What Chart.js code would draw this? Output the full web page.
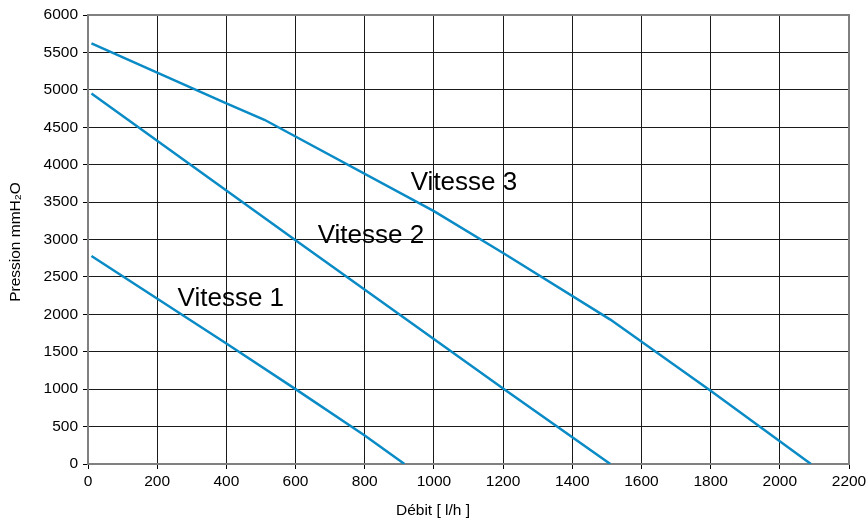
<!DOCTYPE html>
<html>
<head>
<meta charset="utf-8">
<script src="https://cdn.jsdelivr.net/npm/chart.js@4.4.0/dist/chart.umd.min.js"></script>
<style>
  html, body { margin: 0; padding: 0; background: #fff; }
  #wrap { width: 867px; height: 524px; }
</style>
</head>
<body>
<div id="wrap"><canvas id="chart"></canvas></div>
<script>
// curve points (débit l/h, pression mmH2O)
const vitesse1 = [[10, 2780], [400, 1610], [600, 1000], [800, 380], [915, 0]];
const vitesse2 = [[10, 4950], [600, 2990], [1200, 1010], [1510, 0]];
const vitesse3 = [[10, 5620], [200, 5230], [400, 4820], [510, 4600], [1000, 3380], [1200, 2820], [1510, 1930], [1800, 980], [2090, 0]];

const curveLabels = [
    { text: 'Vitesse 1', x: 259, y: 2203 },
    { text: 'Vitesse 2', x: 664, y: 3045 },
    { text: 'Vitesse 3', x: 933, y: 3754 }
];

const xTitle = 'Débit [ l/h ]';
const yTitle = 'Pression mmH₂O';

const lineColor = '#0a8bc6';
const fontFam = '"Liberation Sans", Arial, sans-serif';
const toPts = arr => arr.map(p => ({ x: p[0], y: p[1] }));

const mkSet = (label, arr) => ({
    label: label,
    data: toPts(arr),
    borderColor: lineColor,
    borderWidth: 2.5,
    pointRadius: 0,
    tension: 0,
    fill: false
});

// curve names + axis titles
const textPlugin = {
    id: 'texts',
    afterDatasetsDraw(chart) {
        const { ctx, scales } = chart;
        ctx.save();
        ctx.fillStyle = '#000';
        ctx.font = '26px ' + fontFam;
        ctx.textBaseline = 'middle';
        ctx.textAlign = 'left';
        curveLabels.forEach(l => {
            ctx.fillText(l.text, scales.x.getPixelForValue(l.x), scales.y.getPixelForValue(l.y));
        });

        ctx.font = '15.5px ' + fontFam;
        ctx.textAlign = 'center';
        ctx.fillText(xTitle, 433, 511);
        ctx.translate(16, 242);
        ctx.rotate(-Math.PI / 2);
        ctx.fillText(yTitle, 0, 0);
        ctx.restore();
    }
};

new Chart(document.getElementById('chart'), {
    type: 'line',
    data: {
        datasets: [
            mkSet('Vitesse 1', vitesse1),
            mkSet('Vitesse 2', vitesse2),
            mkSet('Vitesse 3', vitesse3)
        ]
    },
    options: {
        responsive: true,
        maintainAspectRatio: false,
        animation: false,
        layout: { padding: { top: 15, right: 18, left: 0, bottom: 0 } },
        plugins: {
            legend: { display: false },
            tooltip: { enabled: false }
        },
        scales: {
            x: {
                type: 'linear',
                min: 0,
                max: 2200,
                ticks: {
                    stepSize: 200,
                    color: '#000',
                    font: { size: 15.5, family: fontFam },
                    padding: 3,
                    maxRotation: 0,
                    callback: v => v
                },
                grid: { color: '#1a1a1a', lineWidth: 1, tickLength: 5, tickColor: '#000' },
                border: { color: '#808080', width: 2 },
                afterFit: s => { s.height = 60; s.paddingRight = 0; }
            },
            y: {
                min: 0,
                max: 6000,
                ticks: {
                    stepSize: 500,
                    color: '#000',
                    font: { size: 15.5, family: fontFam },
                    padding: 5,
                    callback: v => v
                },
                grid: { color: '#1a1a1a', lineWidth: 1, tickLength: 5, tickColor: '#000' },
                border: { color: '#808080', width: 2 },
                afterFit: s => { s.width = 88; }
            }
        }
    },
    plugins: [textPlugin, {
        id: 'frame',
        afterDraw(chart) {
            const { ctx, chartArea: a } = chart;
            ctx.save();
            ctx.strokeStyle = '#808080';
            ctx.lineWidth = 2;
            ctx.beginPath();
            ctx.moveTo(a.left, a.top);
            ctx.lineTo(a.right, a.top);
            ctx.lineTo(a.right, a.bottom);
            ctx.stroke();
            ctx.restore();
        }
    }]
});
</script>
</body>
</html>
